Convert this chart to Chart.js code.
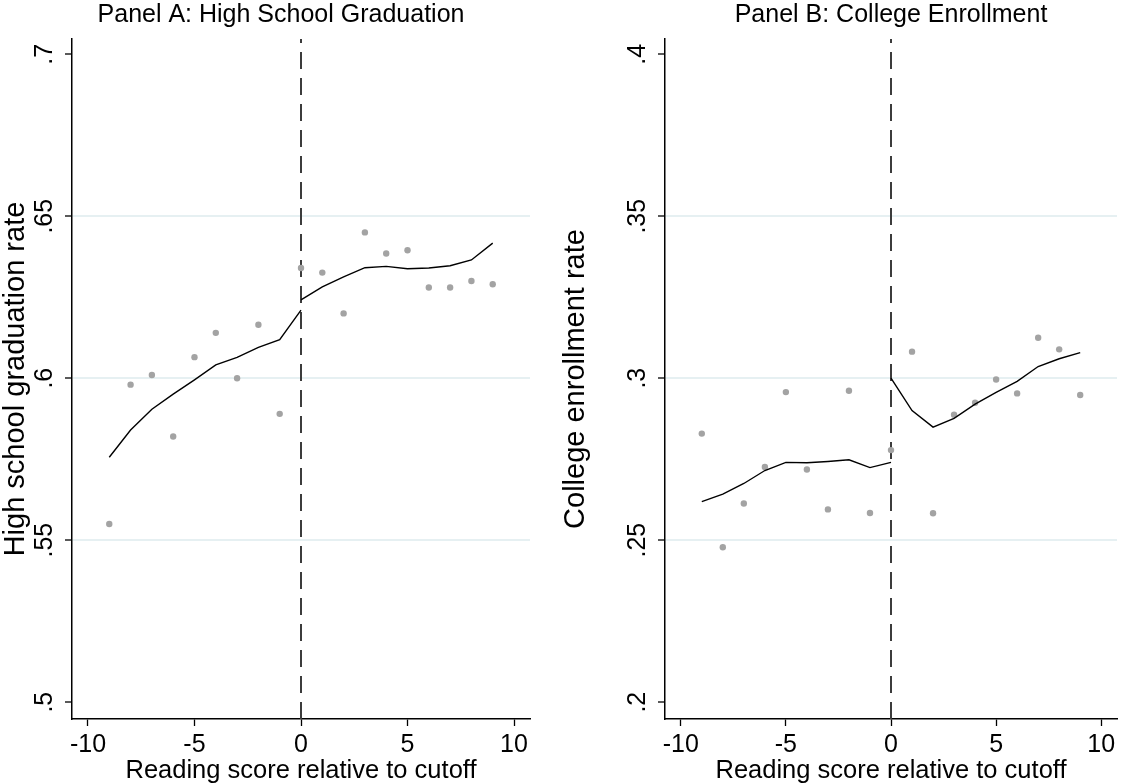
<!DOCTYPE html>
<html lang="en">
<head>
    <meta charset="utf-8" />
    <title>Reading score cutoff: graduation and enrollment</title>
    <script src="https://cdnjs.cloudflare.com/ajax/libs/Chart.js/4.4.0/chart.umd.js"></script>
    <style>
        body { margin: 0; background: #fff; }
        #wrap { position: relative; width: 1121px; height: 784px; }
        canvas { position: absolute; top: 0; }
        #panelA { left: 0; }
        #panelB { left: 560px; }
    </style>
</head>
<body>
    <div id="wrap">
        <canvas id="panelA" width="562" height="784"></canvas>
        <canvas id="panelB" width="561" height="784"></canvas>
    </div>
    <script>
        // reading score relative to cutoff
        const scores = [-9, -8, -7, -6, -5, -4, -3, -2, -1, 0, 1, 2, 3, 4, 5, 6, 7, 8, 9];
        const leftScores = [-9, -8, -7, -6, -5, -4, -3, -2, -1, 0];
        const rightScores = [0, 1, 2, 3, 4, 5, 6, 7, 8, 9];

        // panel A: high school graduation
        const gradRate = [0.555, 0.598, 0.601, 0.582, 0.6065, 0.614, 0.600, 0.6165, 0.589, 0.634,
                          0.6326, 0.620, 0.645, 0.6385, 0.6395, 0.628, 0.628, 0.630, 0.629];
        const gradFitLeft = [0.5756, 0.584, 0.5904, 0.5951, 0.5995, 0.6041, 0.6064, 0.6095, 0.6119, 0.621];
        const gradFitRight = [0.6242, 0.6282, 0.6313, 0.6341, 0.6345, 0.6338, 0.634, 0.6347, 0.6365, 0.6417];

        // panel B: college enrollment
        const collRate = [0.2829, 0.2478, 0.2613, 0.2726, 0.2957, 0.2718, 0.2595, 0.2961, 0.2584, 0.2778,
                          0.3082, 0.2583, 0.2887, 0.2924, 0.2996, 0.2953, 0.3125, 0.3089, 0.2948];
        const collFitLeft = [0.2619, 0.2642, 0.2675, 0.2715, 0.274, 0.2739, 0.2743, 0.2748, 0.2724, 0.274];
        const collFitRight = [0.300, 0.290, 0.2849, 0.2876, 0.292, 0.2956, 0.299, 0.3036, 0.306, 0.3079];

        const xTicks = [-10, -5, 0, 5, 10];
        const gradTicks = [0.5, 0.55, 0.6, 0.65, 0.7];
        const collTicks = [0.2, 0.25, 0.3, 0.35, 0.4];

        const FONT = "'Liberation Sans', Arial, sans-serif";
        const pts = (xs, ys) => xs.map((x, i) => ({ x: x, y: ys[i] }));
        const fmt = v => String(+v.toFixed(2)).replace(/^0\./, '.');

        function makePanel(id, title, yTitle, yTicks, yMin, yMax, rate, fitL, fitR, leftW, rightW, titleFull) {
            const ctx = document.getElementById(id).getContext('2d');
            const scales = {
                x: {
                    type: 'linear',
                    min: -10.75,
                    max: 10.75,
                    afterBuildTicks: s => { s.ticks = xTicks.map(v => ({ value: v })); },
                    afterFit: s => { s.height = 65; },
                    ticks: {
                        color: '#000',
                        font: { family: FONT, size: 25 },
                        padding: 4,
                        maxRotation: 0,
                        callback: v => String(v)
                    },
                    grid: {
                        drawOnChartArea: false,
                        drawTicks: true,
                        tickLength: 7,
                        tickColor: '#000',
                        tickWidth: 1.3
                    },
                    border: { display: true, color: '#000', width: 1.5 },
                    title: {
                        display: true,
                        text: 'Reading score relative to cutoff',
                        color: '#000',
                        font: { family: FONT, size: 25.5, lineHeight: 1.0 },
                        padding: { top: 0, bottom: 0 }
                    }
                },
                y: {
                    type: 'linear',
                    min: yMin,
                    max: yMax,
                    afterBuildTicks: s => { s.ticks = yTicks.map(v => ({ value: v })); },
                    afterFit: s => { s.width = leftW; },
                    ticks: {
                        color: '#000',
                        font: { family: FONT, size: 25 },
                        padding: 3,
                        minRotation: 90,
                        maxRotation: 90,
                        crossAlign: 'center',
                        callback: v => fmt(v)
                    },
                    grid: {
                        color: c => (c.index > 0 && c.index < yTicks.length - 1) ? '#e6f0f2' : 'rgba(0,0,0,0)',
                        lineWidth: 2,
                        drawTicks: true,
                        tickLength: 7,
                        tickColor: '#000',
                        tickWidth: 1.3
                    },
                    border: { display: true, color: '#000', width: 1.5 },
                    title: {
                        display: true,
                        text: yTitle,
                        color: '#000',
                        font: { family: FONT, size: 29, lineHeight: 1.1 },
                        padding: { top: 0, bottom: 0 }
                    }
                }
            };
            if (rightW > 0) {
                // empty right-hand margin so the title centres on the whole panel
                scales.yPad = {
                    type: 'linear',
                    position: 'right',
                    afterFit: s => { s.width = rightW; },
                    ticks: { display: false },
                    grid: { display: false },
                    border: { display: false }
                };
            }
            return new Chart(ctx, {
                type: 'scatter',
                data: {
                    datasets: [
                        {
                            type: 'line',
                            data: pts(leftScores, fitL),
                            borderColor: '#000',
                            borderWidth: 1.4,
                            pointRadius: 0,
                            fill: false
                        },
                        {
                            type: 'line',
                            data: pts(rightScores, fitR),
                            borderColor: '#000',
                            borderWidth: 1.4,
                            pointRadius: 0,
                            fill: false
                        },
                        {
                            data: pts(scores, rate),
                            backgroundColor: '#a3a3a3',
                            borderWidth: 0,
                            pointRadius: 3.2
                        },
                        {
                            type: 'line',
                            data: [{ x: 0, y: yMin }, { x: 0, y: yMax }],
                            borderColor: '#3c3c3c',
                            borderWidth: 2,
                            borderDash: [17, 9],
                            pointRadius: 0
                        }
                    ]
                },
                options: {
                    responsive: false,
                    animation: false,
                    layout: { padding: 0 },
                    plugins: {
                        legend: { display: false },
                        tooltip: { enabled: false },
                        title: {
                            display: true,
                            fullSize: titleFull,
                            text: title,
                            color: '#000',
                            font: { family: FONT, size: 25, weight: 'normal' },
                            padding: { top: 0, bottom: 9 }
                        }
                    },
                    scales: scales
                }
            });
        }

        makePanel('panelA', 'Panel A: High School Graduation', 'High school graduation rate',
                  gradTicks, 0.4948, 0.7047, gradRate, gradFitLeft, gradFitRight, 72, 32, true);
        makePanel('panelB', 'Panel B: College Enrollment', 'College enrollment rate',
                  collTicks, 0.1948, 0.4047, collRate, collFitLeft, collFitRight, 105, 0, false);
    </script>
</body>
</html>
